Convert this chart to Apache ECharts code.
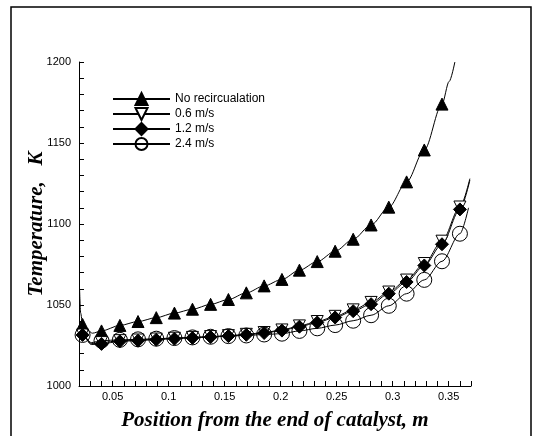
<!DOCTYPE html>
<html>
<head>
<meta charset="utf-8">
<script src="https://cdn.jsdelivr.net/npm/echarts@6/dist/echarts.min.js"></script>
<style>
    html, body {margin: 0; padding: 0; background: #fff;}
    #echartdiv {width: 536px; height: 436px;}
</style>
</head>
<body>
<div id="echartdiv"></div>
<script>
// marker positions (m)
var pX = [0.0232, 0.0401, 0.0565, 0.0727, 0.0890, 0.1052, 0.1213, 0.1375, 0.1534, 0.1694, 0.1853,
    0.2012, 0.2168, 0.2327, 0.2487, 0.2648, 0.2808, 0.2966, 0.3125, 0.3283, 0.3441, 0.3601];

// temperatures (K) at each marker
var tNoRec = [1038, 1034, 1037.4, 1039.8, 1042.2, 1045, 1047.4, 1050.4, 1053.4, 1057.5, 1061.8,
    1065.8, 1071.5, 1076.8, 1083.2, 1090.6, 1099.4, 1110.4, 1126, 1145.7, 1174];
var t06 = [1031.5, 1026.8, 1028, 1028.4, 1029, 1029.5, 1030, 1030.5, 1031.1, 1031.9, 1033,
    1034.6, 1037.1, 1039.8, 1043, 1047, 1051.6, 1058, 1065.4, 1075.6, 1089.4, 1110.5];
var t12 = [1031.5, 1026, 1027.6, 1028, 1028.6, 1029.2, 1029.7, 1030.2, 1030.8, 1031.6, 1032.7,
    1034.2, 1036.6, 1039.2, 1042.3, 1046.2, 1050.5, 1057, 1064.2, 1074.4, 1087.5, 1109];
var t24 = [1031.5, 1028, 1028.5, 1028.8, 1029.2, 1029.6, 1030, 1030.4, 1030.8, 1031.2, 1031.8,
    1032.3, 1034, 1035.6, 1037.6, 1040.3, 1043.7, 1049.5, 1057, 1065.5, 1077, 1094];

// curve pieces beyond the markers (no symbol drawn)
var headNoRec = [[0.0205, 1060], [0.0215, 1045]];
var bendNoRec = [[0.032, 1032.6]];
var tailNoRec = [[0.3505, 1188], [0.3556, 1200]];
var head06 = [[0.0205, 1034]];
var bend06 = [[0.031, 1026.2]];
var tail06 = [[0.369, 1128]];
var head12 = [[0.0205, 1034]];
var bend12 = [[0.031, 1025.6]];
var tail12 = [[0.369, 1127]];
var head24 = [[0.0205, 1034]];
var bend24 = [[0.031, 1026.8]];
var tail24 = [[0.3678, 1110]];

var seriesNames = ["No recircualation", "0.6 m/s", "1.2 m/s", "2.4 m/s"];

function build_data(temps, head, bend, tail) {
    var arr = [];
    var i;
    for (i = 0; i < head.length; i++) {
        arr.push({value: head[i], symbol: 'none'});
    }
    arr.push({value: [pX[0], temps[0]]});
    for (i = 0; i < bend.length; i++) {
        arr.push({value: bend[i], symbol: 'none'});
    }
    for (i = 1; i < temps.length; i++) {
        arr.push({value: [pX[i], temps[i]]});
    }
    for (i = 0; i < tail.length; i++) {
        arr.push({value: tail[i], symbol: 'none'});
    }
    return arr;
}

function make_series(name, temps, head, bend, tail, symbol, size, rotate, fill) {
    return {
        name: name,
        type: 'line',
        data: build_data(temps, head, bend, tail),
        smooth: 0.3,
        smoothMonotone: 'x',
        symbol: symbol,
        symbolSize: size,
        symbolRotate: rotate,
        showAllSymbol: true,
        clip: true,
        lineStyle: {color: '#000', width: 1},
        itemStyle: {color: fill, borderColor: '#000', borderWidth: 1},
        emphasis: {disabled: true},
        z: 2
    };
}

// only label every n-th step of the fine tick grid
function every_label(v, step, fromV) {
    var k = v / step;
    if (Math.abs(k - Math.round(k)) < 1e-6 && v > fromV) {
        return String(Math.round(Math.round(k) * step * 1000) / 1000);
    }
    return '';
}

function show_chart() {
    var dom = document.getElementById("echartdiv");
    var myChart = echarts.init(dom, null, {renderer: 'canvas'});

    var option = {
        backgroundColor: '#fff',
        animation: false,
        grid: {
            left: 79,
            right: 65,
            top: 62,
            bottom: 43
        },
        legend: {
            orient: 'vertical',
            left: 107,
            top: 87,
            itemWidth: 57,
            itemHeight: 15,
            itemGap: 1,
            data: seriesNames,
            textStyle: {
                fontFamily: 'Liberation Sans, Arial',
                fontSize: 12,
                color: '#000',
                padding: [0, 0, 0, 0]
            }
        },
        xAxis: {
            type: 'value',
            min: 0.02,
            max: 0.37,
            interval: 0.01,
            name: 'Position from the end of catalyst, m',
            nameLocation: 'middle',
            nameGap: 24,
            nameMoveOverlap: false,
            nameTextStyle: {
                fontFamily: 'Liberation Serif, Times New Roman',
                fontStyle: 'italic',
                fontWeight: 'bold',
                fontSize: 21,
                color: '#000'
            },
            axisLine: {lineStyle: {color: '#000', width: 1}},
            axisTick: {inside: true, length: 5, lineStyle: {color: '#000'}},
            axisLabel: {
                margin: 5,
                fontFamily: 'Liberation Sans, Arial',
                fontSize: 11,
                color: '#000',
                showMinLabel: true,
                showMaxLabel: true,
                hideOverlap: false,
                formatter: function (v) {
                    return every_label(v, 0.05, 0.03);
                }
            },
            splitLine: {show: false}
        },
        yAxis: {
            type: 'value',
            min: 1000,
            max: 1200,
            interval: 10,
            name: 'Temperature,   K',
            nameLocation: 'middle',
            nameGap: 32,
            nameMoveOverlap: false,
            nameTextStyle: {
                fontFamily: 'Liberation Serif, Times New Roman',
                fontStyle: 'italic',
                fontWeight: 'bold',
                fontSize: 21,
                color: '#000'
            },
            axisLine: {show: true, lineStyle: {color: '#000', width: 1}},
            axisTick: {show: true, inside: true, length: 5, lineStyle: {color: '#000'}},
            axisLabel: {
                margin: 8,
                fontFamily: 'Liberation Sans, Arial',
                fontSize: 11,
                color: '#000',
                showMinLabel: true,
                showMaxLabel: true,
                formatter: function (v) {
                    return every_label(v, 50, 999);
                }
            },
            splitLine: {show: false}
        },
        graphic: [
            {
                type: 'rect',
                shape: {x: 11, y: 7, width: 520, height: 440},
                style: {fill: 'none', stroke: '#000', lineWidth: 1.5},
                silent: true
            }
        ],
        series: [
            make_series(seriesNames[0], tNoRec, headNoRec, bendNoRec, tailNoRec, 'triangle', 12, 0, '#000'),
            make_series(seriesNames[1], t06, head06, bend06, tail06, 'triangle', 12, 180, '#fff'),
            make_series(seriesNames[2], t12, head12, bend12, tail12, 'diamond', 13, 0, '#000'),
            make_series(seriesNames[3], t24, head24, bend24, tail24, 'circle', 15, 0, 'rgba(255,255,255,0)')
        ]
    };

    myChart.setOption(option);
}

show_chart();
</script>
</body>
</html>
